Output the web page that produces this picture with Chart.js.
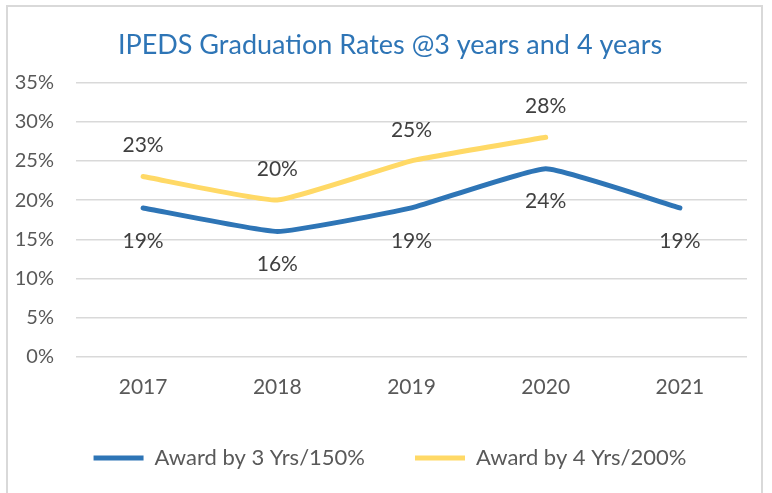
<!DOCTYPE html>
<html>
<head>
<meta charset="utf-8">
<script src="https://cdn.jsdelivr.net/npm/chart.js@4/dist/chart.umd.min.js"></script>
<style>
  html, body { margin: 0; padding: 0; background: #ffffff; overflow: hidden; }
  #frame {
    position: absolute; left: 6px; top: 5px;
    width: 753px; height: 530px;
    border: 2px solid #d9d9d9; background: #ffffff;
  }
  #wrap { position: absolute; left: 0; top: 0; width: 753px; height: 472px; }
</style>
</head>
<body>
<div id="frame"><div id="wrap"><canvas id="grad-chart"></canvas></div></div>
<script>
// 졸업률 데이터
var years = ['2017', '2018', '2019', '2020', '2021'];
var rate3yr = [19, 16, 19, 24, 19];
var rate4yr = [23, 20, 25, 28, null];
var yTicks = [0, 5, 10, 15, 20, 25, 30, 35];

var FONT = 'Lato, "Open Sans", sans-serif';

// 점 위/아래에 값 라벨을 그리는 간단한 플러그인
var pointLabels = {
  id: 'pointLabels',
  afterDatasetsDraw: function (chart) {
    var ctx = chart.ctx;
    ctx.save();
    ctx.font = '21px ' + FONT;
    ctx.fillStyle = '#404040';
    ctx.textAlign = 'center';
    ctx.textBaseline = 'middle';
    chart.data.datasets.forEach(function (ds, i) {
      var meta = chart.getDatasetMeta(i);
      meta.data.forEach(function (pt, j) {
        var v = ds.data[j];
        if (v === null || v === undefined) return;
        var dy = ds.labelPos === 'below' ? 33 : -31;
        ctx.fillText(v + '%', pt.x, pt.y + dy);
      });
    });
    ctx.restore();
  }
};

// 제목과 범례를 원본처럼 살짝 오른쪽으로 옮김
var shiftBlocks = {
  id: 'shiftBlocks',
  afterLayout: function (chart) {
    if (chart.titleBlock) chart.titleBlock.left += 25;
    if (chart.legend) chart.legend.left += 25;
  }
};

new Chart(document.getElementById('grad-chart').getContext('2d'), {
  type: 'line',
  data: {
    labels: years,
    datasets: [
      {
        label: 'Award by 3 Yrs/150%',
        data: rate3yr,
        borderColor: '#2e75b6',
        backgroundColor: '#2e75b6',
        borderWidth: 5,
        borderCapStyle: 'round',
        pointRadius: 0,
        tension: 0.12,
        labelPos: 'below'
      },
      {
        label: 'Award by 4 Yrs/200%',
        data: rate4yr,
        borderColor: '#ffd966',
        backgroundColor: '#ffd966',
        borderWidth: 5,
        borderCapStyle: 'round',
        pointRadius: 0,
        tension: 0.12,
        labelPos: 'above'
      }
    ]
  },
  options: {
    responsive: true,
    maintainAspectRatio: false,
    animation: false,
    layout: { padding: { left: 0, right: 14, top: 0, bottom: 0 } },
    plugins: {
      title: {
        display: true,
        text: 'IPEDS Graduation Rates @3 years and 4 years',
        color: '#2e75b6',
        font: { family: FONT, size: 27, weight: 'normal' },
        padding: { top: 22, bottom: 21 }
      },
      legend: {
        position: 'bottom',
        labels: {
          usePointStyle: true,
          pointStyle: 'line',
          pointStyleWidth: 50,
          color: '#595959',
          font: { family: FONT, size: 22 },
          padding: 50
        }
      },
      tooltip: { enabled: false }
    },
    scales: {
      x: {
        offset: true,
        afterFit: function (axis) { axis.height = 40; },
        grid: { display: false, drawTicks: false },
        border: { display: false },
        ticks: { color: '#595959', font: { family: FONT, size: 21 }, padding: 18 }
      },
      y: {
        min: 0,
        max: 35,
        afterBuildTicks: function (axis) {
          axis.ticks = yTicks.map(function (v) { return { value: v }; });
        },
        afterFit: function (axis) { axis.width = 68; },
        grid: { color: '#d9d9d9', lineWidth: 1.5, drawTicks: false },
        border: { display: false },
        ticks: {
          color: '#595959',
          font: { family: FONT, size: 20 },
          padding: 22,
          callback: function (v) { return v + '%'; }
        }
      }
    }
  },
  plugins: [pointLabels, shiftBlocks]
});
</script>
</body>
</html>
